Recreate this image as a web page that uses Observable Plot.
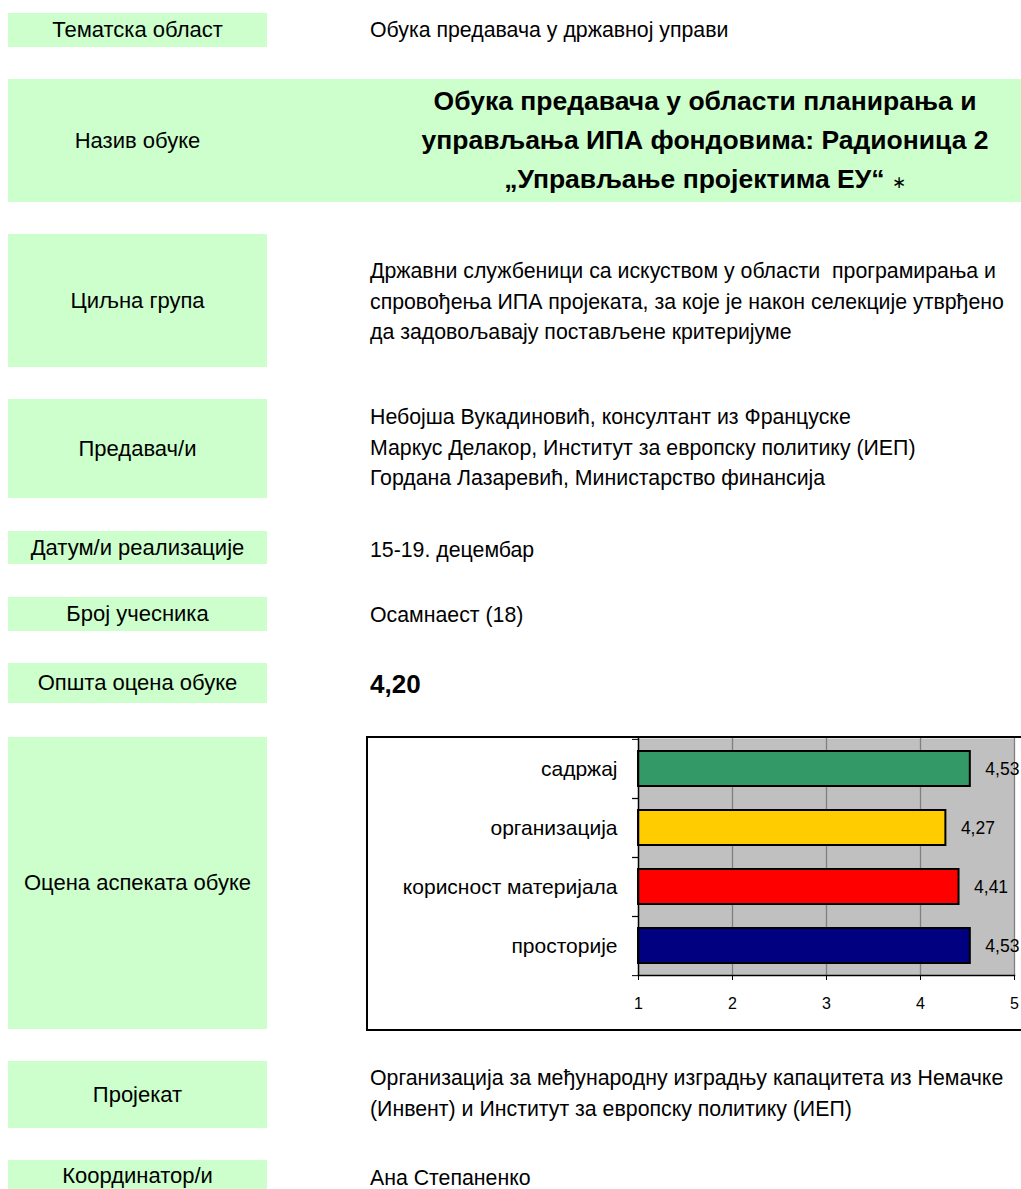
<!DOCTYPE html>
<html>
<head>
<meta charset="utf-8">
<script src="https://cdn.jsdelivr.net/npm/d3@7"></script>
<script src="https://cdn.jsdelivr.net/npm/@observablehq/plot@0.6"></script>
<style>
  html, body { margin: 0; padding: 0; background: #fff; }
  body { position: relative; width: 1021px; height: 1189px; overflow: hidden;
         font-family: "Liberation Sans", Arial, sans-serif; color: #000; }
  .box { position: absolute; left: 8px; width: 259px; background: #ccffcc;
         display: flex; align-items: center; justify-content: center; font-size: 22px; white-space: nowrap; }
  .val { position: absolute; left: 370px; font-size: 21.3px; line-height: 30.5px; white-space: nowrap; }
  .title { position: absolute; left: 390px; width: 630px; text-align: center;
           font-size: 26.5px; font-weight: bold; line-height: 39px; white-space: nowrap; }
  .title .star { font-weight: normal; font-size: 17px; }
  .score { position: absolute; left: 370px; font-size: 26px; font-weight: bold; }
  #chartwrap { position: absolute; left: 366px; top: 736px; width: 720px; height: 295px;
               border: 2px solid #000; box-sizing: border-box; background: #fff; }
  #chartwrap svg { position: absolute; left: 0; top: 0; overflow: visible; }
</style>
</head>
<body>
<div id="page"></div>
<div id="chartwrap"></div>
<script>
// ---- form content ----
const fieldLabels = ["Тематска област", "Назив обуке", "Циљна група", "Предавач/и",
  "Датум/и реализације", "Број учесника", "Општа оцена обуке", "Оцена аспеката обуке",
  "Пројекат", "Координатор/и"];
const topicText = "Обука предавача у државној управи";
const trainingTitle = ["Обука предавача у области планирања и",
  "управљања ИПА фондовима: Радионица 2", "„Управљање пројектима ЕУ“"];
const targetGroup = ["Државни службеници са искуством у области  програмирања и",
  "спровођења ИПА пројеката, за које је након селекције утврђено",
  "да задовољавају постављене критеријуме"];
const lecturers = ["Небојша Вукадиновић, консултант из Француске",
  "Маркус Делакор, Институт за европску политику (ИЕП)",
  "Гордана Лазаревић, Министарство финансија"];
const dates = "15-19. децембар";
const participants = "Осамнаест (18)";
const overallScore = "4,20";
const project = ["Организација за међународну изградњу капацитета из Немачке",
  "(Инвент) и Институт за европску политику (ИЕП)"];
const coordinators = "Ана Степаненко";

// ---- chart data ----
const categories = ["садржај", "организација", "корисност материјала", "просторије"];
const scores = [4.53, 4.27, 4.41, 4.53];
const barColors = ["#339966", "#ffcc00", "#ff0000", "#000080"];
const xTicks = [1, 2, 3, 4, 5];

// ---- page layout ----
const page = document.getElementById("page");
const boxGeom = [[13, 34], [79, 123], [234, 133], [399, 99], [531, 33], [597, 34],
  [663, 40], [737, 292], [1061, 67], [1160, 40]];
fieldLabels.forEach((t, i) => {
  const d = document.createElement("div");
  d.className = "box";
  d.style.top = boxGeom[i][0] + "px";
  d.style.height = boxGeom[i][1] + "px";
  if (i === 1) d.style.width = "1013px", d.style.justifyContent = "flex-start";
  const s = document.createElement("span");
  s.textContent = t;
  if (i === 1) { s.style.width = "259px"; s.style.textAlign = "center"; }
  if (i === 9) { s.style.marginTop = "-8px"; }
  d.appendChild(s);
  page.appendChild(d);
});
function addVal(lines, top) {
  const d = document.createElement("div");
  d.className = "val";
  d.style.top = top + "px";
  d.innerHTML = (Array.isArray(lines) ? lines : [lines]).map(l => l.replace(/  /g, " &nbsp;")).join("<br>");
  page.appendChild(d);
}
addVal(topicText, 15);
const tdiv = document.createElement("div");
tdiv.className = "title";
tdiv.style.top = "82px";
tdiv.innerHTML = trainingTitle.join("<br>") + ' <span class="star">∗</span>';
page.appendChild(tdiv);
addVal(targetGroup, 256);
addVal(lecturers, 402);
addVal(dates, 535);
addVal(participants, 600);
const sc = document.createElement("div");
sc.className = "score";
sc.style.top = "669px";
sc.textContent = overallScore;
page.appendChild(sc);
addVal(project, 1063);
addVal(coordinators, 1163);

// ---- chart ----
const data = categories.map((c, i) => ({category: c, value: scores[i], color: barColors[i]}));
const W = 686, H = 291, mL = 270, mR = 40, mT = 0, mB = 54;
const padInner = 0.41, padOuter = 0.205;
const step = (H - mT - mB) / (categories.length - padInner + 2 * padOuter);
const fmt = v => v.toFixed(2).replace(".", ",");

const chart = Plot.plot({
  width: W, height: H,
  marginLeft: mL, marginRight: mR, marginTop: mT, marginBottom: mB,
  style: {fontFamily: "'Liberation Sans', Arial, sans-serif", background: "transparent", overflow: "visible", color: "#000"},
  x: {domain: [xTicks[0], xTicks[xTicks.length - 1]]},
  y: {domain: categories, paddingInner: padInner, paddingOuter: padOuter},
  color: {type: "identity"},
  marks: [
    Plot.frame({fill: "#c0c0c0", stroke: null}),
    Plot.gridX({ticks: xTicks.slice(1), stroke: "#808080", strokeOpacity: 1, strokeWidth: 1.3}),
    Plot.barX(data, {y: "category", x1: xTicks[0], x2: "value", fill: "color", stroke: "#000", strokeWidth: 2}),
    Plot.ruleX([xTicks[0]], {stroke: "#000", strokeWidth: 1.5}),
    Plot.frame({anchor: "bottom", stroke: "#000", strokeWidth: 1.5}),
    Plot.axisX({ticks: xTicks, tickSize: 5, tickPadding: 17, fontSize: 16, label: null, tickFormat: d => String(d), stroke: "#000"}),
    Plot.axisY({tickSize: 0, tickPadding: 21, fontSize: 21, label: null}),
    Plot.axisY({tickSize: 6, tickFormat: () => "", label: null, dy: -step / 2, stroke: "#000"}),
    Plot.axisY({tickSize: 6, tickFormat: () => "", label: null, dy: step / 2, stroke: "#000"}),
    Plot.text(data, {y: "category", x: "value", text: d => fmt(d.value), dx: 15, textAnchor: "start", fontSize: 17.5, fill: "#000"})
  ]
});
document.getElementById("chartwrap").appendChild(chart);
</script>
</body>
</html>
